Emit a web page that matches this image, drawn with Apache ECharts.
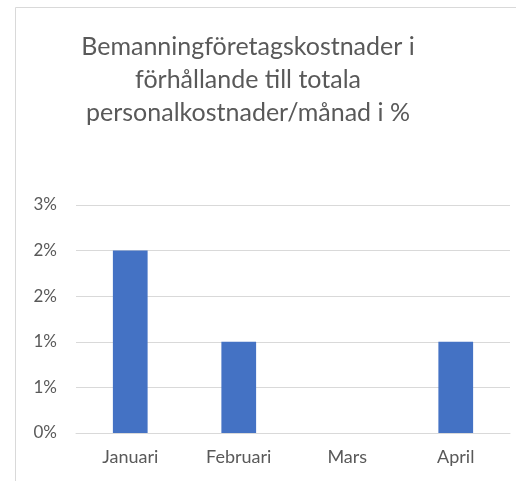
<!DOCTYPE html>
<html>
<head>
<meta charset="utf-8">
<script src="https://cdn.jsdelivr.net/npm/echarts@6/dist/echarts.min.js"></script>
<style>
  html, body { margin: 0; padding: 0; background: #fff; }
  #chart { width: 516px; height: 481px; }
</style>
</head>
<body>
<div id="chart"></div>
<script>
var months = ['Januari', 'Februari', 'Mars', 'April'];
var shareValues = [2, 1, 0, 1]; // % of total personnel costs
var tickLabels = ['0%', '1%', '1%', '2%', '2%', '3%'];

var chart = echarts.init(document.getElementById('chart'));
var font = 'Lato, "Open Sans", sans-serif';

var option = {
    animation: false,
    graphic: [
        {
            type: 'rect',
            shape: { x: 15.5, y: 7.5, width: 600, height: 600 },
            style: { fill: 'none', stroke: '#d9d9d9', lineWidth: 1 },
            silent: true
        },
        {
            type: 'text',
            x: 248,
            y: 30,
            style: {
                text: 'Bemanningföretagskostnader i\nförhållande till totala\npersonalkostnader/månad i %',
                fontFamily: font,
                fontSize: 25,
                lineHeight: 33,
                fill: '#595959',
                align: 'center',
                verticalAlign: 'top'
            }
        }
    ],
    grid: { left: 76, right: 6, top: 205, bottom: 48 },
    xAxis: {
        type: 'category',
        data: months,
        axisLine: { lineStyle: { color: '#d9d9d9', width: 1 } },
        axisTick: { show: false },
        axisLabel: { color: '#595959', fontFamily: font, fontSize: 18, margin: 15 }
    },
    yAxis: {
        type: 'value',
        min: 0,
        max: 2.5,
        interval: 0.5,
        axisLine: { show: false },
        axisTick: { show: false },
        splitLine: { lineStyle: { color: '#d9d9d9', width: 1 } },
        axisLabel: {
            color: '#595959',
            fontFamily: font,
            fontSize: 17,
            margin: 19,
            formatter: function (v, i) { return tickLabels[i]; }
        }
    },
    series: [
        {
            type: 'bar',
            data: shareValues,
            barWidth: '32%',
            itemStyle: { color: '#4472c4' }
        }
    ]
};
chart.setOption(option);
</script>
</body>
</html>
